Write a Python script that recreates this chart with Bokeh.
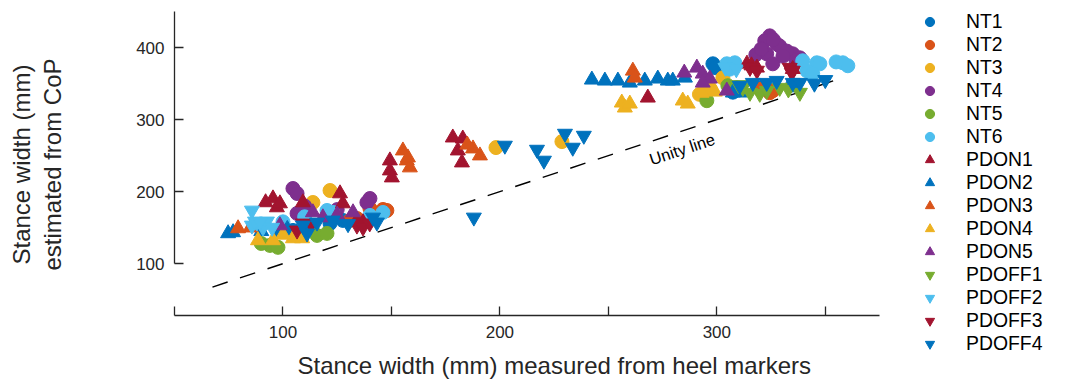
import math
from bokeh.plotting import figure
from bokeh.models import Range1d, FixedTicker, Legend, LegendItem, Label
from bokeh.embed import file_html
from bokeh.resources import INLINE

FONT = "Liberation Sans"

# ---------------- data (mm) ----------------
NT1_x = [98.6, 104.6, 121.7, 127.6, 113.0, 298.2, 299.5, 309.3, 307.4, 321.0, 335.0]
NT1_y = [146.1, 146.1, 155.8, 160.0, 150.0, 377.4, 372.0, 344.2, 338.0, 345.0, 348.0]

NT2_x = [140.1, 146.1, 147.9, 134.1, 130.9, 143.0, 324.4, 325.8, 320.0]
NT2_y = [176.6, 175.2, 173.8, 162.7, 160.0, 168.0, 337.3, 340.0, 342.0]

NT3_x = [121.7, 113.8, 110.0, 198.2, 228.6, 302.8, 297.0, 292.0]
NT3_y = [201.5, 184.9, 165.0, 261.1, 269.4, 358.0, 342.0, 335.0]

NT4_x = [104.6, 106.5, 106.5, 140.1, 138.7, 110.0, 125.0, 324.4, 322.1, 323.0, 329.0, 335.0, 338.3, 325.8, 327.6, 332.3, 318.0, 320.5, 326.0, 330.5, 336.5]
NT4_y = [204.3, 197.4, 169.7, 190.4, 184.9, 180.0, 175.0, 416.2, 409.3, 391.3, 402.0, 391.3, 385.7, 377.4, 405.0, 395.0, 390.0, 398.0, 411.0, 388.0, 382.0]

NT5_x = [94.0, 97.7, 115.7, 120.3, 90.0, 295.4, 305.1]
NT5_y = [125.3, 122.6, 139.2, 142.0, 128.0, 326.2, 347.0]

NT6_x = [123.0, 120.3, 146.1, 140.1, 110.0, 100.0, 346.1, 347.5, 341.5, 344.2, 339.6, 304.6, 308.3, 306.0, 358.1, 360.4, 355.0]
NT6_y = [171.1, 173.8, 171.1, 166.9, 165.0, 158.0, 378.8, 377.4, 367.7, 363.6, 381.6, 377.4, 378.8, 370.0, 378.8, 374.7, 380.0]

PDON1_x = [95.4, 97.2, 98.6, 126.3, 127.6, 109.2, 134.1, 136.9, 92.0, 149.3, 149.3, 150.2, 178.3, 182.9, 180.6, 182.5, 268.2, 313.9, 318.5, 316.0, 335.0]
PDON1_y = [190.4, 178.0, 183.5, 197.4, 183.5, 184.9, 160.0, 157.2, 185.0, 243.1, 229.2, 219.5, 274.9, 273.5, 256.9, 240.3, 330.3, 377.4, 371.9, 375.0, 370.0]

PDON2_x = [74.7, 77.0, 90.0, 102.0, 110.0, 242.4, 248.4, 254.4, 259.9, 266.8, 272.8, 277.4, 279.7, 285.3, 307.4, 310.6]
PDON2_y = [142.0, 143.4, 145.0, 148.0, 150.0, 355.3, 353.9, 353.9, 351.1, 353.9, 356.7, 353.9, 353.9, 358.0, 337.3, 337.3]

PDON3_x = [79.3, 85.0, 155.3, 157.1, 158.5, 157.6, 187.6, 190.8, 185.0, 261.3, 262.2]
PDON3_y = [148.9, 150.0, 256.9, 243.1, 233.4, 247.2, 259.7, 250.0, 265.0, 367.7, 358.0]

PDON4_x = [88.5, 95.4, 104.6, 108.8, 100.0, 256.2, 257.6, 259.9, 284.3, 286.6, 295.4, 299.1, 293.0]
PDON4_y = [132.3, 132.3, 135.0, 135.0, 140.0, 323.4, 316.5, 322.0, 326.2, 322.0, 340.0, 338.6, 337.0]

PDON5_x = [98.6, 113.8, 118.4, 132.3, 125.0, 290.8, 293.5, 296.8, 293.5, 304.6, 285.0]
PDON5_y = [153.0, 171.1, 164.1, 171.1, 168.0, 371.9, 363.6, 356.7, 351.1, 340.0, 365.0]

PDOFF1_x = [312.0, 315.3, 319.8, 323.0, 329.0, 338.3, 333.0, 310.0]
PDOFF1_y = [344.2, 337.3, 335.9, 340.0, 344.2, 337.3, 342.0, 348.0]

PDOFF2_x = [85.7, 88.0, 90.8, 85.7, 87.1, 92.6, 89.4, 95.0, 304.0, 309.0]
PDOFF2_y = [173.8, 157.2, 150.3, 153.0, 158.6, 158.6, 158.0, 150.0, 372.0, 370.0]

PDOFF3_x = [106.5, 109.2, 134.1, 136.9, 140.0, 113.0, 315.3, 333.6, 334.6, 335.0, 318.5]
PDOFF3_y = [146.1, 155.8, 153.0, 150.3, 156.0, 155.0, 371.9, 371.9, 365.0, 368.0, 368.0]

PDOFF4_x = [109.2, 111.1, 115.7, 123.0, 141.5, 143.3, 130.0, 188.0, 202.3, 217.1, 220.3, 230.0, 233.6, 238.7, 316.6, 323.0, 327.6, 335.0, 338.3, 310.6, 345.0, 350.0]
PDOFF4_y = [153.0, 142.0, 157.2, 160.0, 164.1, 157.2, 155.0, 164.1, 263.9, 258.3, 243.1, 280.5, 261.1, 277.7, 351.1, 351.1, 353.9, 351.1, 351.1, 347.0, 350.0, 355.0]

UNITY_x = [67.5, 355.0]
UNITY_y = [67.5, 355.0]

X_TICKS = [50, 100, 150, 200, 250, 300, 350]
X_TICK_LABELS = {50: "", 100: "100", 150: "", 200: "200", 250: "", 300: "300", 350: ""}
Y_TICKS = [100, 200, 300, 400]

series = [
    ("NT1", NT1_x, NT1_y, "#0072BD", "circle"),
    ("NT2", NT2_x, NT2_y, "#D95319", "circle"),
    ("NT3", NT3_x, NT3_y, "#EDB120", "circle"),
    ("NT4", NT4_x, NT4_y, "#7E2F8E", "circle"),
    ("NT5", NT5_x, NT5_y, "#77AC30", "circle"),
    ("NT6", NT6_x, NT6_y, "#4DBEEE", "circle"),
    ("PDON1", PDON1_x, PDON1_y, "#A2142F", "triangle"),
    ("PDON2", PDON2_x, PDON2_y, "#0072BD", "triangle"),
    ("PDON3", PDON3_x, PDON3_y, "#D95319", "triangle"),
    ("PDON4", PDON4_x, PDON4_y, "#EDB120", "triangle"),
    ("PDON5", PDON5_x, PDON5_y, "#7E2F8E", "triangle"),
    ("PDOFF1", PDOFF1_x, PDOFF1_y, "#77AC30", "inverted_triangle"),
    ("PDOFF2", PDOFF2_x, PDOFF2_y, "#4DBEEE", "inverted_triangle"),
    ("PDOFF3", PDOFF3_x, PDOFF3_y, "#A2142F", "inverted_triangle"),
    ("PDOFF4", PDOFF4_x, PDOFF4_y, "#0072BD", "inverted_triangle"),
]

AX = "#262626"
W, H = 1067, 381

# Axis box (in page pixels) and its data limits; the frame covers the whole
# canvas, and the axes are pinned with fixed_location / bounds.
X_LO, X_HI = 50, 375          # x axis extent (data)
Y_LO, Y_HI = 100, 450         # y axis extent (data)
Y_BOTTOM = 28                 # data y at the x-axis line
AX_LEFT, AX_RIGHT = 174, 879  # px
AX_TOP, AX_BOTTOM = 11, 315   # px
kx = (AX_RIGHT - AX_LEFT) / (X_HI - X_LO)
ky = (AX_BOTTOM - AX_TOP) / (Y_HI - Y_BOTTOM)
x_range = Range1d(X_LO - AX_LEFT / kx, X_LO + (W - AX_LEFT) / kx)
y_range = Range1d(Y_BOTTOM - (H - AX_BOTTOM) / ky, Y_HI + AX_TOP / ky)

p = figure(width=W, height=H, output_backend="svg", toolbar_location=None,
           x_range=x_range, y_range=y_range, min_border=0)
p.outline_line_color = None
p.xgrid.grid_line_color = None
p.ygrid.grid_line_color = None

for ax in (p.xaxis[0], p.yaxis[0]):
    ax.axis_line_color = AX
    ax.axis_line_width = 1.3
    ax.major_tick_line_color = AX
    ax.major_tick_line_width = 1.3
    ax.major_tick_in = 9
    ax.major_tick_out = 0
    ax.minor_tick_line_color = None
    ax.major_label_text_font = FONT
    ax.major_label_text_font_size = "17px"
    ax.major_label_text_color = AX

p.xaxis.ticker = FixedTicker(ticks=X_TICKS)
p.xaxis.major_label_overrides = X_TICK_LABELS
p.xaxis.major_label_standoff = 10
p.xaxis.bounds = (X_LO, X_HI)
p.xaxis.fixed_location = Y_BOTTOM

p.yaxis.ticker = FixedTicker(ticks=Y_TICKS)
p.yaxis.major_label_standoff = 10
p.yaxis.bounds = (Y_LO, Y_HI)
p.yaxis.fixed_location = X_LO

p.line(UNITY_x, UNITY_y, line_color="black", line_width=1.4, line_dash="16 13")

items = []
for name, xs, ys, col, mk in series:
    sz = 14 if mk == "circle" else 15
    r = p.scatter(xs, ys, marker=mk, size=sz, fill_color=col, line_color=col, line_width=1)
    items.append(LegendItem(label=name, renderers=[r]))

p.add_layout(Label(x=284.0, y=259.0, text="Unity line", angle=math.atan(ky / kx),
                   text_align="center", text_baseline="middle", text_font=FONT,
                   text_font_size="16.5px", text_color="black"))

# axis titles (screen units: from the canvas' left / bottom edge)
p.add_layout(Label(x=297, y=H - 365, x_units="screen", y_units="screen",
                   text="Stance width (mm) measured from heel markers", text_align="left",
                   text_baseline="alphabetic", text_font=FONT, text_font_size="24px", text_color=AX))
p.add_layout(Label(x=21, y=H - 164, x_units="screen", y_units="screen", angle=math.pi / 2,
                   text="Stance width (mm)", text_align="center", text_baseline="alphabetic",
                   text_font=FONT, text_font_size="24px", text_color=AX))
p.add_layout(Label(x=52, y=H - 164, x_units="screen", y_units="screen", angle=math.pi / 2,
                   text="estimated from CoP", text_align="center", text_baseline="alphabetic",
                   text_font=FONT, text_font_size="24px", text_color=AX))

legend = Legend(items=items, location=(916, 26), glyph_width=27, glyph_height=23, spacing=0,
                label_standoff=23, label_text_font=FONT, label_text_font_size="19.4px",
                label_text_color="black", border_line_color=None, background_fill_alpha=0,
                padding=0, margin=0)
p.add_layout(legend)

open("out.html", "w").write(file_html(p, INLINE))
